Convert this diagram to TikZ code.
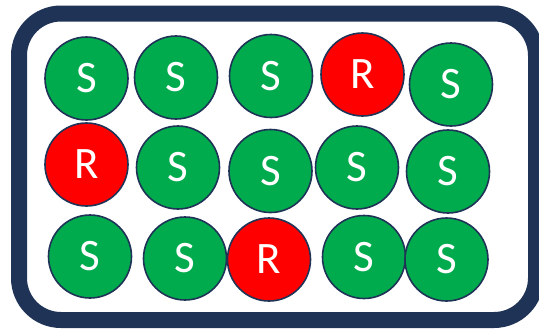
\documentclass[tikz,border=0pt]{standalone}
\usepackage{fontspec}
\setmainfont{Carlito}
\usepackage{xcolor}
\usepackage{tikz}
\usetikzlibrary{shapes}
\definecolor{frameblue}{HTML}{1F3356}
\definecolor{okgreen}{HTML}{00AB4E}
\definecolor{badred}{HTML}{FF0000}
\tikzstyle{frame} = [draw=frameblue, line width=16pt, rounded corners=42pt]
\tikzstyle{ball} = [draw=frameblue, circle, line width=1.6pt, minimum size=83pt, inner sep=0pt, text=white, font=\fontsize{45}{54}\selectfont]
\tikzstyle{sball} = [ball, fill=okgreen]
\tikzstyle{rball} = [ball, fill=badred]

\begin{document}
\begin{tikzpicture}[x=1pt, y=-1pt]
    % 画布
    \useasboundingbox (0,0) rectangle (539,330);
    \clip (0,0) rectangle (539,330);

    % 外框
    \draw [frame] (19,13.5) rectangle (536,320);

    % 第一行
    \node [sball] (s11) at (86.5,78.5) {S};
    \node [sball] (s12) at (176,77.5) {S};
    \node [sball] (s13) at (271,76) {S};
    \node [rball] (r14) at (362.5,74.5) {R};
    \node [sball] (s15) at (451,84.5) {S};

    % 第二行
    \node [rball] (r21) at (86.5,164.5) {R};
    \node [sball] (s22) at (178,167.5) {S};
    \node [sball] (s23) at (270.5,171) {S};
    \node [sball] (s24) at (357,167.5) {S};
    \node [sball] (s25) at (448,171.5) {S};

    % 第三行
    \node [sball] (s31) at (90,256.5) {S};
    \node [sball] (s32) at (185,258.5) {S};
    \node [rball] (r33) at (269,259.5) {R};
    \node [sball] (s34) at (364,257) {S};
    \node [sball] (s35) at (446.5,259.5) {S};
\end{tikzpicture}
\end{document}
